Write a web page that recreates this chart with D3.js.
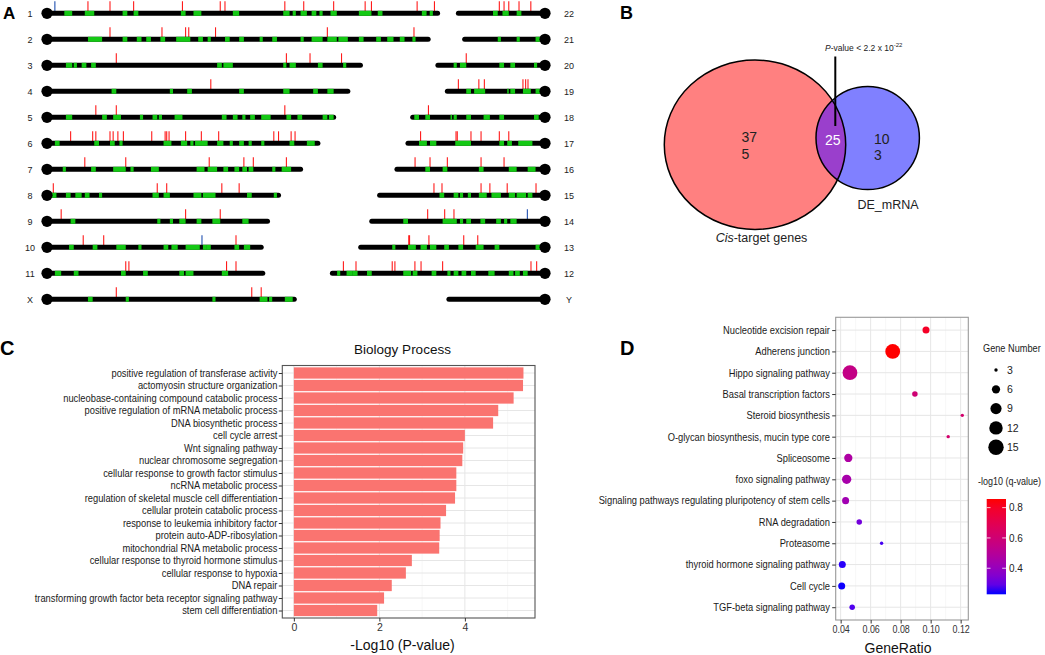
<!DOCTYPE html>
<html>
<head>
<meta charset="utf-8">
<script src="https://cdn.jsdelivr.net/npm/d3@7"></script>
<style>
body { margin: 0; background: #fff; }
svg { display: block; font-family: "Liberation Sans", Arial, sans-serif; }
</style>
</head>
<body>
<svg id="fig" width="1045" height="655"></svg>
<script>
// ---------- A: chromosome map (positions in Mb, measured from the circle end)
const chromNames = ["1","2","3","4","5","6","7","8","9","10","11","X",
                    "22","21","20","19","18","17","16","15","14","13","12","Y"];
const chromLength = [248,242,199,191,182,172,161,147,140,136,137,157,
                     55,51,68,62,84,87,94,105,110,117,135,61];
const chromBands = [
  [[11,16],[24,30],[48,51],[55,58],[85,88],[93,98],[118,122],[150,154],[156,158],[161,165],[168,171],[173,175],[180,184],[198,206],[210,213],[238,241],[243,245]],
  [[26,35],[48,51],[57,60],[63,66],[72,75],[82,91],[96,99],[102,104],[113,116],[122,125],[135,137],[143,146],[161,163],[168,175],[178,184],[185,191],[198,201],[209,212],[216,220],[224,227],[232,234]],
  [[12,16],[17,19],[22,25],[28,31],[108,111],[112,118],[150,152],[154,158],[172,175],[188,190]],
  [[41,44],[78,80],[89,92],[122,125],[150,154],[169,172],[178,182]],
  [[12,16],[35,38],[42,47],[59,61],[67,70],[71,73],[81,86],[111,114],[118,121],[124,126],[129,132],[136,142],[152,155],[159,162],[175,178],[179,182]],
  [[5,8],[30,33],[40,43],[46,48],[74,79],[85,89],[91,93],[94,102],[108,112],[116,118],[122,125],[128,130],[136,138],[154,157],[165,170]],
  [[10,12],[28,31],[42,50],[53,55],[66,71],[95,100],[102,108],[112,115],[119,122],[124,127],[128,131],[143,145],[149,155]],
  [[3,6],[12,15],[18,22],[24,27],[33,35],[67,71],[74,78],[93,98],[99,107],[127,130],[144,146]],
  [[15,18],[70,72],[78,80],[84,88],[95,98],[105,110],[124,128]],
  [[14,17],[29,32],[44,50],[58,60],[74,77],[79,83],[88,97],[99,101],[101,104],[119,122],[125,129]],
  [[5,9],[17,20],[47,50],[61,64],[84,87],[88,93],[111,115]],
  [[26,29],[50,52],[105,107],[135,140],[141,143],[151,156]],
  [[30,33],[23,27],[15,18]],
  [[28,30],[16,18],[3,6]],
  [[56,58],[50,54],[26,29],[19,22],[5,7]],
  [[47,50],[38,45],[23,24],[19,22],[9,14],[3,6]],
  [[80,83],[73,76],[59,60],[56,58],[47,50],[35,39],[26,29],[4,7]],
  [[75,80],[69,73],[47,57],[26,29],[21,24],[8,17]],
  [[73,76],[62,65],[39,42],[18,23],[6,11]],
  [[64,67],[55,58],[52,54],[47,49],[37,42],[28,34],[19,23],[12,18],[8,11]],
  [[87,90],[56,65],[52,54],[47,50],[38,41],[28,31],[24,26],[18,22]],
  [[95,97],[82,87],[75,79],[69,73],[61,64],[52,55],[39,44],[29,32],[3,6]],
  [[130,132],[122,126],[119,122],[110,113],[85,90],[81,84],[69,72],[60,62],[55,58],[50,53],[44,47],[32,36],[20,23],[16,19],[11,14]],
  []
];
const redTicks = [
  [26,40,55,86,110,113,151,163,182,202,206,235,246],
  [40,73,88,90,107,178,233],
  [44,152,167,187],
  [104],
  [31,44,151],
  [15,29,31,40,42,45,48.5,66.5,75,76,77.5,88,98,109,144,147,155,157.5],
  [24,50,103,125,131,152],
  [4,70,76,111,122],
  [9,88,110],
  [23,36,120],
  [50,52,114,120],
  [44,130,136],
  [29,26,23,16.5,9],
  [],
  [50],
  [55,42,38.5,14,12.3,10.8],
  [74],
  [79,56.5,55.7,47,40.6,29,23],
  [82.5,73,62,40.6,26],
  [70.5,65.4,40.6,35,24,5.7],
  [74.5,63.7,57.8],
  [86.5,86,73.7,51.6,42.7],
  [128,120,97,95.3,82.6,78.7,65,8.9,5.3],
  []
];
const blueTicks = [[5],[],[],[],[],[],[],[],[],[98.4],[],[],
                   [],[],[],[],[],[],[],[],[11.2],[],[],[]];

// ---------- B: Venn
const vennSets = ["Cis-target genes", "DE_mRNA"];
const onlyCis = ["37", "5"];
const onlyDE = ["10", "3"];
const bothCount = "25";

// ---------- C: Biology Process
const bpTerms = [
  "positive regulation of transferase activity",
  "actomyosin structure organization",
  "nucleobase-containing compound catabolic process",
  "positive regulation of mRNA metabolic process",
  "DNA biosynthetic process",
  "cell cycle arrest",
  "Wnt signaling pathway",
  "nuclear chromosome segregation",
  "cellular response to growth factor stimulus",
  "ncRNA metabolic process",
  "regulation of skeletal muscle cell differentiation",
  "cellular protein catabolic process",
  "response to leukemia inhibitory factor",
  "protein auto-ADP-ribosylation",
  "mitochondrial RNA metabolic process",
  "cellular response to thyroid hormone stimulus",
  "cellular response to hypoxia",
  "DNA repair",
  "transforming growth factor beta receptor signaling pathway",
  "stem cell differentiation"
];
const bpLogP = [5.37,5.36,5.14,4.78,4.66,4.0,3.96,3.94,3.80,3.80,3.77,3.56,3.43,3.41,3.40,2.76,2.62,2.29,2.11,1.95];
const bpTicks = [0, 2, 4];

// ---------- D: KEGG dot plot
const keggTerms = [
  "Nucleotide excision repair",
  "Adherens junction",
  "Hippo signaling pathway",
  "Basal transcription factors",
  "Steroid biosynthesis",
  "O-glycan biosynthesis, mucin type core",
  "Spliceosome",
  "foxo signaling pathway",
  "Signaling pathways regulating pluripotency of stem cells",
  "RNA degradation",
  "Proteasome",
  "thyroid hormone signaling pathway",
  "Cell cycle",
  "TGF-beta signaling pathway"
];
const keggRatio = [0.0969,0.0747,0.0462,0.0895,0.1211,0.1117,0.0451,0.0440,0.0433,0.0524,0.0673,0.0411,0.0407,0.0477];
const keggCount = [5,14,14,4,3,3,6,7,5,4,3,5,5,4];
const keggQ = [0.80,0.857,0.55,0.60,0.62,0.62,0.47,0.45,0.43,0.32,0.26,0.24,0.23,0.27];
const ratioTicks = [0.04, 0.06, 0.08, 0.10, 0.12];
const countBreaks = [3, 6, 9, 12, 15];
const qBreaks = [0.4, 0.6, 0.8];

const FONT = '"Liberation Sans", Arial, sans-serif';
const svg = d3.select('#fig');
svg.append('rect').attr('width', 1045).attr('height', 655).attr('fill', '#fff');

// text squeezed horizontally, anchored at (x, y)
function narrowText(parent, x, y, str, size, sx, anchor) {
  return parent.append('g').attr('transform', `translate(${x},${y}) scale(${sx},1)`)
    .append('text').attr('text-anchor', anchor || 'start')
    .attr('font-size', size).attr('fill', '#222').text(str);
}

// panel letters
[["A", 3, 18.5, 17], ["B", 620, 18.5, 18], ["C", 0, 354.5, 20], ["D", 620, 355, 20]].forEach(l => {
  svg.append('text').attr('x', l[1]).attr('y', l[2]).attr('font-size', l[3])
    .attr('font-weight', 'bold').attr('fill', '#000').text(l[0]);
});

// ================= A
const mb = d3.scaleLinear().domain([0, 250]).range([0, 393.75]);
const row = d3.scalePoint().domain(d3.range(12)).range([13.3, 299.3]);
const gA = svg.append('g');

chromNames.forEach((name, i) => {
  const left = i < 12;
  const y = row(i % 12);
  const px = p => left ? 47 + mb(p) : 545 - mb(p);
  const g = gA.append('g');

  g.selectAll('line.red').data(redTicks[i]).join('line')
    .attr('class', 'red')
    .attr('x1', d => px(d)).attr('x2', d => px(d))
    .attr('y1', y - 2).attr('y2', y - 12)
    .attr('stroke', '#ff1a1a').attr('stroke-width', 1.1);
  g.selectAll('line.blue').data(blueTicks[i]).join('line')
    .attr('class', 'blue')
    .attr('x1', d => px(d)).attr('x2', d => px(d))
    .attr('y1', y - 2).attr('y2', y - 12)
    .attr('stroke', '#1f4fb0').attr('stroke-width', 1.1);

  g.append('line')
    .attr('x1', px(0)).attr('x2', px(chromLength[i]))
    .attr('y1', y).attr('y2', y)
    .attr('stroke', '#000').attr('stroke-width', 5).attr('stroke-linecap', 'round');

  g.selectAll('line.band').data(chromBands[i]).join('line')
    .attr('class', 'band')
    .attr('x1', d => px(d[0])).attr('x2', d => px(d[1]))
    .attr('y1', y).attr('y2', y)
    .attr('stroke', '#14c814').attr('stroke-width', 5);

  g.append('circle').attr('cx', px(0)).attr('cy', y).attr('r', 5.6).attr('fill', '#000');

  g.append('text')
    .attr('x', left ? 30 : 569).attr('y', y + 3.3)
    .attr('text-anchor', 'middle').attr('font-size', 9).attr('fill', '#222')
    .text(name);
});

// ================= B
const gB = svg.append('g');
const cis = { cx: 755, cy: 144.7, rx: 90.7, ry: 84.7 };
const de = { cx: 867.7, cy: 138, rx: 51.7, ry: 51.5 };

gB.append('clipPath').attr('id', 'cisClip')
  .append('ellipse').attr('cx', cis.cx).attr('cy', cis.cy).attr('rx', cis.rx).attr('ry', cis.ry);

gB.append('ellipse').attr('cx', cis.cx).attr('cy', cis.cy).attr('rx', cis.rx).attr('ry', cis.ry)
  .attr('fill', '#ff8080');
gB.append('ellipse').attr('cx', de.cx).attr('cy', de.cy).attr('rx', de.rx).attr('ry', de.ry)
  .attr('fill', '#8080ff');
gB.append('ellipse').attr('cx', de.cx).attr('cy', de.cy).attr('rx', de.rx).attr('ry', de.ry)
  .attr('fill', '#9a3fcc').attr('clip-path', 'url(#cisClip)');
[cis, de].forEach(c => {
  gB.append('ellipse').attr('cx', c.cx).attr('cy', c.cy).attr('rx', c.rx).attr('ry', c.ry)
    .attr('fill', 'none').attr('stroke', '#000').attr('stroke-width', 1.5);
});

onlyCis.forEach((t, k) => {
  gB.append('text').attr('x', 741.5).attr('y', 142 + k * 17).attr('font-size', 14)
    .attr('fill', '#222').text(t);
});
onlyDE.forEach((t, k) => {
  gB.append('text').attr('x', 874).attr('y', 143.5 + k * 16).attr('font-size', 14)
    .attr('fill', '#222').text(t);
});
gB.append('text').attr('x', 832.8).attr('y', 144.5).attr('text-anchor', 'middle')
  .attr('font-size', 14).attr('fill', '#fff').text(bothCount);

gB.append('line').attr('x1', 835.3).attr('x2', 835.3).attr('y1', 56.5).attr('y2', 126)
  .attr('stroke', '#000').attr('stroke-width', 2);
const pv = gB.append('text').attr('x', 825).attr('y', 50.5).attr('font-size', 8.5).attr('fill', '#222');
pv.append('tspan').attr('font-style', 'italic').text('P');
pv.append('tspan').text('-value < 2.2 x 10');
pv.append('tspan').attr('font-size', 6).attr('dy', -3.5).text('-22');

const cisLab = gB.append('text').attr('x', 761.5).attr('y', 242).attr('text-anchor', 'middle')
  .attr('font-size', 12.5).attr('fill', '#222');
cisLab.append('tspan').attr('font-style', 'italic').text(vennSets[0].slice(0, 3));
cisLab.append('tspan').text(vennSets[0].slice(3));
gB.append('text').attr('x', 888).attr('y', 209).attr('text-anchor', 'middle')
  .attr('font-size', 12.5).attr('fill', '#222').text(vennSets[1]);

// ================= C
const cL = 282.3, cR = 535, cT = 365.5, cB = 618;
const yC = d3.scalePoint().domain(bpTerms).range([cT, cB]).padding(0.6);
const xC = d3.scaleLinear().domain([-0.27, 5.64]).range([cL, cR]);
const gC = svg.append('g');

gC.selectAll('line.minor').data([1, 3, 5]).join('line').attr('class', 'minor')
  .attr('x1', d => xC(d)).attr('x2', d => xC(d)).attr('y1', cT).attr('y2', cB)
  .attr('stroke', '#f1f1f1').attr('stroke-width', 0.6);
gC.selectAll('line.vmaj').data(bpTicks).join('line').attr('class', 'vmaj')
  .attr('x1', d => xC(d)).attr('x2', d => xC(d)).attr('y1', cT).attr('y2', cB)
  .attr('stroke', '#e6e6e6').attr('stroke-width', 1);
gC.selectAll('line.hmaj').data(bpTerms).join('line').attr('class', 'hmaj')
  .attr('x1', cL).attr('x2', cR).attr('y1', d => yC(d)).attr('y2', d => yC(d))
  .attr('stroke', '#e6e6e6').attr('stroke-width', 1);

const bh = yC.step() * 0.9;
gC.selectAll('rect.bar').data(bpTerms).join('rect').attr('class', 'bar')
  .attr('x', xC(0)).attr('y', d => yC(d) - bh / 2)
  .attr('width', (d, i) => xC(bpLogP[i]) - xC(0)).attr('height', bh)
  .attr('fill', '#fa7470');

gC.append('rect').attr('x', cL).attr('y', cT).attr('width', cR - cL).attr('height', cB - cT)
  .attr('fill', 'none').attr('stroke', '#555').attr('stroke-width', 1.1);

const yAxisC = gC.append('g').attr('transform', `translate(${cL},0)`)
  .call(d3.axisLeft(yC).tickSize(3.5).tickPadding(2));
yAxisC.select('.domain').remove();
yAxisC.selectAll('line').attr('stroke', '#333');
yAxisC.selectAll('text').attr('font-size', 10.5).attr('fill', '#1a1a1a')
  .attr('font-family', FONT).attr('transform', 'scale(0.89,1)');

const xAxisC = gC.append('g').attr('transform', `translate(0,${cB})`)
  .call(d3.axisBottom(xC).tickValues(bpTicks).tickFormat(d3.format('d')).tickSize(3.5).tickPadding(2));
xAxisC.select('.domain').remove();
xAxisC.selectAll('line').attr('stroke', '#333');
xAxisC.selectAll('text').attr('font-size', 10.5).attr('fill', '#333').attr('font-family', FONT);

gC.append('text').attr('x', 402.5).attr('y', 354).attr('text-anchor', 'middle')
  .attr('font-size', 13.5).attr('fill', '#111').text('Biology Process');
gC.append('text').attr('x', 402.5).attr('y', 649.5).attr('text-anchor', 'middle')
  .attr('font-size', 14).attr('fill', '#111').text('-Log10 (P-value)');

// ================= D
const dL = 835.7, dR = 968.3, dT = 317.3, dB = 620;
const yD = d3.scalePoint().domain(keggTerms).range([dT, dB]).padding(0.6);
const xD = d3.scaleLinear().domain([0.0367, 0.1251]).range([dL, dR]);
const rD = d3.scaleRadial().domain([3, 15]).range([1.7, 7.7]);
const colD = d3.scaleLinear().domain([0.228, 0.857]).range(['#0000ff', '#ff0000'])
  .interpolate(d3.interpolateLab);
const gD = svg.append('g');

gD.selectAll('line.minor').data([0.05, 0.07, 0.09, 0.11]).join('line').attr('class', 'minor')
  .attr('x1', d => xD(d)).attr('x2', d => xD(d)).attr('y1', dT).attr('y2', dB)
  .attr('stroke', '#f1f1f1').attr('stroke-width', 0.6);
gD.selectAll('line.vmaj').data(ratioTicks).join('line').attr('class', 'vmaj')
  .attr('x1', d => xD(d)).attr('x2', d => xD(d)).attr('y1', dT).attr('y2', dB)
  .attr('stroke', '#e6e6e6').attr('stroke-width', 1);
gD.selectAll('line.hmaj').data(keggTerms).join('line').attr('class', 'hmaj')
  .attr('x1', dL).attr('x2', dR).attr('y1', d => yD(d)).attr('y2', d => yD(d))
  .attr('stroke', '#e6e6e6').attr('stroke-width', 1);

gD.selectAll('circle.pt').data(keggTerms).join('circle').attr('class', 'pt')
  .attr('cx', (d, i) => xD(keggRatio[i])).attr('cy', d => yD(d))
  .attr('r', (d, i) => rD(keggCount[i]))
  .attr('fill', (d, i) => colD(keggQ[i]));

gD.append('rect').attr('x', dL).attr('y', dT).attr('width', dR - dL).attr('height', dB - dT)
  .attr('fill', 'none').attr('stroke', '#999').attr('stroke-width', 1.1);

const yAxisD = gD.append('g').attr('transform', `translate(${dL},0)`)
  .call(d3.axisLeft(yD).tickSize(3.5).tickPadding(3));
yAxisD.select('.domain').remove();
yAxisD.selectAll('line').attr('stroke', '#333');
yAxisD.selectAll('text').attr('font-size', 10.5).attr('fill', '#1a1a1a')
  .attr('font-family', FONT).attr('transform', 'scale(0.89,1)');

const xAxisD = gD.append('g').attr('transform', `translate(0,${dB})`)
  .call(d3.axisBottom(xD).tickValues(ratioTicks).tickFormat(d3.format('.2f')).tickSize(3.5).tickPadding(2.5));
xAxisD.select('.domain').remove();
xAxisD.selectAll('line').attr('stroke', '#333');
xAxisD.selectAll('text').attr('font-size', 10.5).attr('fill', '#333')
  .attr('font-family', FONT).attr('transform', 'scale(0.85,1)');

gD.append('text').attr('x', 898).attr('y', 652.5).attr('text-anchor', 'middle')
  .attr('font-size', 14).attr('fill', '#111').text('GeneRatio');

// size legend
narrowText(gD, 983, 351.5, 'Gene Number', 10, 0.92);
countBreaks.forEach((c, k) => {
  const ky = 370 + k * 19.3;
  gD.append('circle').attr('cx', 996).attr('cy', ky).attr('r', rD(c)).attr('fill', '#000');
  gD.append('text').attr('x', 1007).attr('y', ky + 3.8).attr('font-size', 10.5).attr('fill', '#222')
    .text(c);
});

// colour legend
narrowText(gD, 978, 485, '-log10 (q-value)', 10, 0.9);
const barY = d3.scaleLinear().domain([0.228, 0.857]).range([594.3, 499]);
const grad = svg.append('defs').append('linearGradient').attr('id', 'qgrad')
  .attr('x1', 0).attr('y1', 1).attr('x2', 0).attr('y2', 0);
d3.range(0, 1.0001, 0.1).forEach(t => {
  grad.append('stop').attr('offset', t)
    .attr('stop-color', colD(0.228 + t * (0.857 - 0.228)));
});
gD.append('rect').attr('x', 986.7).attr('y', 499).attr('width', 19.3).attr('height', 95.3)
  .attr('fill', 'url(#qgrad)');
qBreaks.forEach(q => {
  const ty = barY(q);
  gD.append('line').attr('x1', 986.7).attr('x2', 990.5).attr('y1', ty).attr('y2', ty)
    .attr('stroke', '#fff').attr('stroke-width', 0.8);
  gD.append('line').attr('x1', 1002.2).attr('x2', 1006).attr('y1', ty).attr('y2', ty)
    .attr('stroke', '#fff').attr('stroke-width', 0.8);
  gD.append('text').attr('x', 1009).attr('y', ty + 3.6).attr('font-size', 10).attr('fill', '#222')
    .text(q.toFixed(1));
});
</script>
</body>
</html>
